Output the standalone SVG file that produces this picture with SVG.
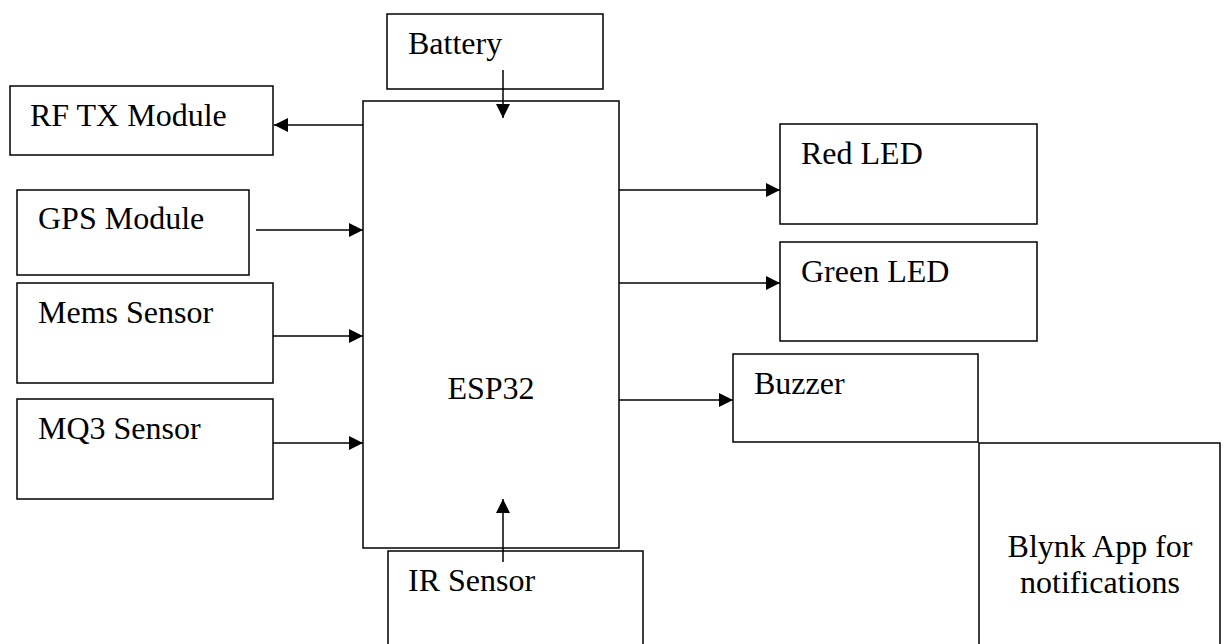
<svg xmlns="http://www.w3.org/2000/svg" width="1227" height="644" viewBox="0 0 1227 644">
<style>
.box{fill:#fff;stroke:#000;stroke-width:1.5}
.t{font-family:"Liberation Serif","Times New Roman",serif;font-size:32px;fill:#000}
.c{stroke:#000;stroke-width:1.5;fill:none}
</style>
<defs>
<marker id="ah" viewBox="0 0 14 14" refX="14" refY="7" markerWidth="14" markerHeight="14" markerUnits="userSpaceOnUse" orient="auto">
<path d="M0,0 L14,7 L0,14 Z" fill="#000"/>
</marker>
</defs>
<rect width="1227" height="644" fill="#fff"/>
<g id="battery"><rect class="box" x="387" y="14" width="216" height="75"/><text class="t" x="408" y="54">Battery</text></g>
<g id="esp32"><rect class="box" x="363" y="101" width="256" height="447"/><text class="t" x="491" y="399" text-anchor="middle">ESP32</text></g>
<g id="rftx"><rect class="box" x="10" y="86" width="263" height="69"/><text class="t" x="30" y="126">RF TX Module</text></g>
<g id="gps"><rect class="box" x="17" y="190" width="232" height="85"/><text class="t" x="38" y="229">GPS Module</text></g>
<g id="mems"><rect class="box" x="17" y="283" width="256" height="100"/><text class="t" x="38" y="323">Mems Sensor</text></g>
<g id="mq3"><rect class="box" x="17" y="399" width="256" height="100"/><text class="t" x="38" y="439">MQ3 Sensor</text></g>
<g id="redled"><rect class="box" x="780" y="124" width="257" height="100"/><text class="t" x="801" y="164">Red LED</text></g>
<g id="greenled"><rect class="box" x="780" y="242" width="257" height="99"/><text class="t" x="801" y="282">Green LED</text></g>
<g id="buzzer"><rect class="box" x="733" y="354" width="245" height="88"/><text class="t" x="754" y="394">Buzzer</text></g>
<g id="blynk"><rect class="box" x="979" y="443" width="241" height="220"/><text class="t" x="1100" y="557" text-anchor="middle">Blynk App for</text><text class="t" x="1100" y="593" text-anchor="middle">notifications</text></g>
<g id="ir"><rect class="box" x="388" y="551" width="255" height="110"/><text class="t" x="408" y="591">IR Sensor</text></g>
<g id="connectors">
<line class="c" x1="363" y1="125" x2="274" y2="125" marker-end="url(#ah)"/>
<line class="c" x1="503" y1="70" x2="503" y2="118" marker-end="url(#ah)"/>
<line class="c" x1="256" y1="230" x2="363" y2="230" marker-end="url(#ah)"/>
<line class="c" x1="273" y1="336" x2="363" y2="336" marker-end="url(#ah)"/>
<line class="c" x1="273" y1="443" x2="363" y2="443" marker-end="url(#ah)"/>
<line class="c" x1="619" y1="190" x2="780" y2="190" marker-end="url(#ah)"/>
<line class="c" x1="619" y1="283" x2="780" y2="283" marker-end="url(#ah)"/>
<line class="c" x1="619" y1="400" x2="733" y2="400" marker-end="url(#ah)"/>
<line class="c" x1="503" y1="562" x2="503" y2="499" marker-end="url(#ah)"/>
</g>
</svg>
